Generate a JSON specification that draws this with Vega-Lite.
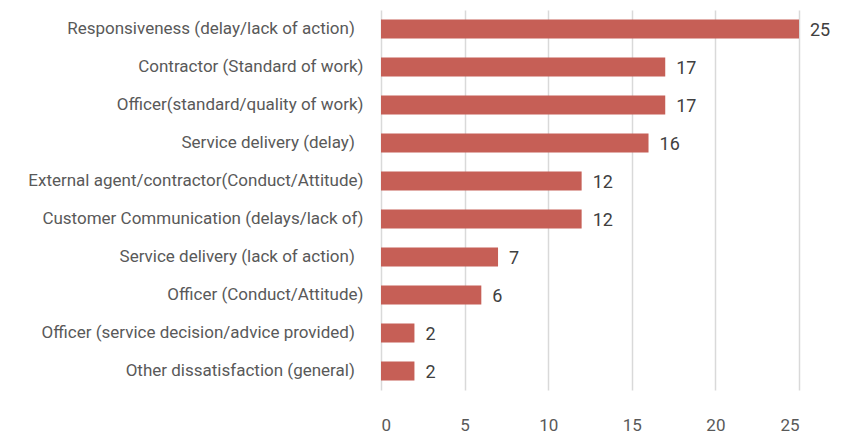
{
  "$schema": "https://vega.github.io/schema/vega-lite/v6.json",
  "autosize": {"type": "none"},
  "width": 418,
  "height": 380,
  "padding": {"left": 381, "top": 10, "right": 49, "bottom": 45},
  "background": "white",
  "config": {"view": {"stroke": null}, "font": "Roboto"},
  "data": {"values": [
    {"category": "Responsiveness (delay/lack of action)\u2002\u200b", "count": 25, "order": 1},
    {"category": "Contractor (Standard of work)", "count": 17, "order": 2},
    {"category": "Officer(standard/quality of work)", "count": 17, "order": 3},
    {"category": "Service delivery (delay)\u2002\u200b", "count": 16, "order": 4},
    {"category": "External agent/contractor(Conduct/Attitude)", "count": 12, "order": 5},
    {"category": "Customer Communication (delays/lack of)", "count": 12, "order": 6},
    {"category": "Service delivery (lack of action)\u2002\u200b", "count": 7, "order": 7},
    {"category": "Officer (Conduct/Attitude)", "count": 6, "order": 8},
    {"category": "Officer (service decision/advice provided)\u2002\u200b", "count": 2, "order": 9},
    {"category": "Other dissatisfaction (general)\u2002\u200b", "count": 2, "order": 10}
  ]},
  "encoding": {
    "y": {"field": "category", "type": "nominal", "sort": {"field": "order"},
      "scale": {"paddingInner": 0.5, "paddingOuter": 0.25},
      "axis": {"title": null, "domain": false, "ticks": false, "labelPadding": 18,
        "labelFontSize": 17, "labelColor": "#595959", "labelLimit": 400, "labelFont": "Roboto"}},
    "x": {"field": "count", "type": "quantitative",
      "scale": {"domain": [0, 25], "nice": false},
      "axis": {"title": null, "values": [0, 5, 10, 15, 20, 25], "domain": false, "ticks": false,
        "grid": true, "gridColor": "#D9D9D9", "gridWidth": 1.5,
        "labelPadding": 27, "labelFontSize": 17, "labelColor": "#595959", "labelFont": "Roboto"}}
  },
  "layer": [
    {"mark": {"type": "bar", "color": "#C65F56"}},
    {"mark": {"type": "text", "align": "left", "baseline": "middle", "dx": 11, "dy": 2, "fontSize": 18, "color": "#404040", "font": "Roboto"},
     "encoding": {"text": {"field": "count", "type": "quantitative"}}}
  ]
}
